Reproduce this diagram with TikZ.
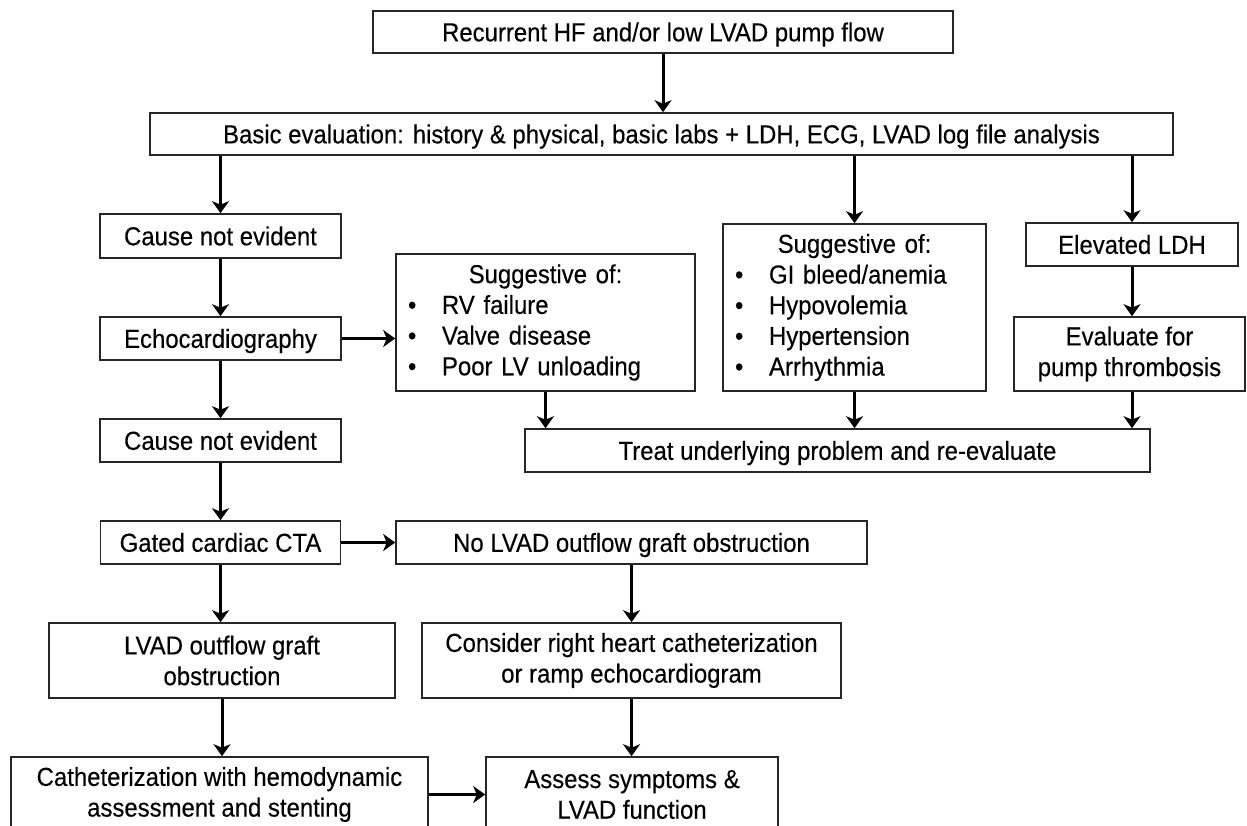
\documentclass[tikz,border=0pt]{standalone}
\usepackage{fontspec}
\setmainfont{Liberation Sans}[FakeStretch=0.92,FakeBold=0.3]
\usetikzlibrary{arrows.meta}
\newcommand{\boxfont}{\fontsize{26}{30.7}\selectfont}
\newcommand{\li}{\makebox[46pt][l]{\hspace{12pt}\textbullet}}

\begin{document}
\begin{tikzpicture}[x=1pt,y=-1pt]
      \tikzstyle{box}=[draw=black!85,line width=1.6pt,inner sep=0pt,align=center,font=\boxfont]
      \tikzstyle{one}=[box,text height=18.6pt,text depth=0pt]
      \tikzstyle{arr}=[line width=3pt,-{Stealth[length=12pt,width=17pt,inset=3.5pt]}]
      \clip (0,0) rectangle (1247,826);
      \node[one,minimum width=580pt,minimum height=42pt] (start) at (663,32) {Recurrent HF and/or low LVAD pump flow};
      \node[one,minimum width=1023pt,minimum height=42pt] (basic) at (661.5,134) {Basic evaluation: history \& physical, basic labs + LDH, ECG, LVAD log file analysis};
      \node[one,minimum width=241pt,minimum height=44pt] (cause1) at (220.5,236) {Cause not evident};
      \node[one,minimum width=241pt,minimum height=43pt] (echo) at (220.5,338.5) {Echocardiography};
      \node[one,minimum width=241pt,minimum height=43pt] (cause2) at (220.5,440.5) {Cause not evident};
      \node[one,minimum width=240pt,minimum height=43pt] (cta) at (220.5,542.5) {Gated cardiac CTA};
      \node[box,minimum width=346pt,minimum height=75pt] (graft) at (222,660.5) {LVAD outflow graft\\obstruction};
      \node[box,minimum width=417pt,minimum height=75pt] (cath) at (219.5,794.5) {Catheterization with hemodynamic\\assessment and stenting};
      \node[box,align=left,text width=299pt,minimum height=137pt] (rvbox) at (545.5,322.5)
        {\makebox[\hsize]{Suggestive of:}\\ \li RV failure\\ \li Valve disease\\ \li Poor LV unloading};
      \node[box,align=left,text width=263pt,minimum height=167pt] (gibox) at (854.5,307.5)
        {\makebox[\hsize]{Suggestive of:}\\ \li GI bleed/anemia\\ \li Hypovolemia\\ \li Hypertension\\ \li Arrhythmia};
      \node[one,minimum width=212pt,minimum height=43pt] (ldh) at (1132,244.5) {Elevated LDH};
      \node[box,minimum width=231pt,minimum height=74pt] (pump) at (1129.5,354) {Evaluate for\\pump thrombosis};
      \node[one,minimum width=625pt,minimum height=43pt] (treat) at (837.5,450.5) {Treat underlying problem and re-evaluate};
      \node[one,minimum width=471pt,minimum height=43pt] (noobs) at (631.5,542.5) {No LVAD outflow graft obstruction};
      \node[box,minimum width=419pt,minimum height=75pt] (rhc) at (631.5,660.5) {Consider right heart catheterization\\or ramp echocardiogram};
      \node[box,minimum width=292pt,minimum height=75pt] (assess) at (632,794.5) {Assess symptoms \&\\LVAD function};
      \draw[arr] (start.south) -- (start.south |- basic.north);
      \draw[arr] (basic.south -| cause1) -- (cause1.north);
      \draw[arr] (basic.south -| gibox) -- (gibox.north);
      \draw[arr] (basic.south -| ldh) -- (ldh.north);
      \draw[arr] (cause1) -- (echo);
      \draw[arr] (echo) -- (cause2);
      \draw[arr] (cause2) -- (cta);
      \draw[arr] (cta.south) -- (cta.south |- graft.north);
      \draw[arr] (graft.south) -- (graft.south |- cath.north);
      \draw[arr] (echo.east) -- (echo.east -| rvbox.west);
      \draw[arr] (rvbox.south) -- (rvbox.south |- treat.north);
      \draw[arr] (gibox.south) -- (gibox.south |- treat.north);
      \draw[arr] (ldh) -- (ldh |- pump.north);
      \draw[arr] (pump.south -| ldh) -- (ldh |- treat.north);
      \draw[arr] (cta) -- (noobs);
      \draw[arr] (noobs) -- (rhc);
      \draw[arr] (rhc.south) -- (rhc.south |- assess.north);
      \draw[arr] (cath.east |- assess) -- (assess.west);
\end{tikzpicture}
\end{document}
